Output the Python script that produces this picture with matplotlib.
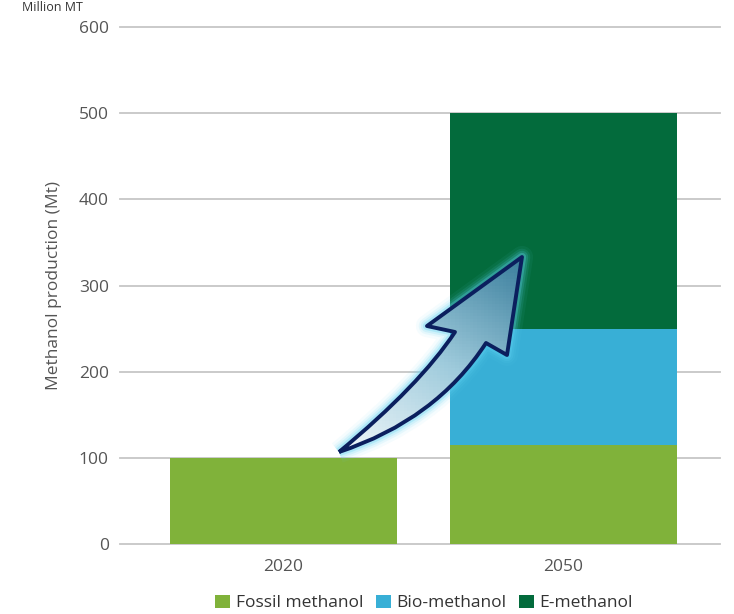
import numpy as np
import matplotlib
matplotlib.use('Agg')
import matplotlib.pyplot as plt
from matplotlib.path import Path
from matplotlib.patches import PathPatch

# data
years = ['2020', '2050']
fossil = [100, 115]
bio = [0, 135]
emeth = [0, 250]
series_names = ['Fossil methanol', 'Bio-methanol', 'E-methanol']
colors = ['#80b23a', '#38afd6', '#036b3c']
yticks = [0, 100, 200, 300, 400, 500, 600]

plt.rcParams['font.family'] = ['Open Sans', 'DejaVu Sans']

W, H = 734, 614
fig = plt.figure(figsize=(W / 100, H / 100), dpi=100)
ax = fig.add_axes([120 / W, 1 - 544 / H, 600 / W, 517 / H])

x = np.arange(len(years))
bw = 0.81
ax.bar(x, fossil, bw, color=colors[0], label=series_names[0], zorder=2)
ax.bar(x, bio, bw, bottom=fossil, color=colors[1], label=series_names[1], zorder=2)
ax.bar(x, emeth, bw, bottom=np.add(fossil, bio), color=colors[2], label=series_names[2], zorder=2)

ax.set_xlim(-0.584, 1.559)
ax.set_ylim(0, 600)
ax.set_xticks(x)
ax.set_xticklabels(years)
ax.set_yticks(yticks)
for t in yticks:
    ax.axhline(t, color='#c6c6c6', lw=1.3, zorder=1, clip_on=False)
for s in ax.spines.values():
    s.set_visible(False)
ax.tick_params(length=0, colors='#555555', labelsize=12.5)
ax.tick_params(axis='y', pad=8)
ax.tick_params(axis='x', pad=11)
ax.set_ylabel('Methanol production (Mt)', color='#555555', fontsize=12.5, labelpad=12)

# header is cut off in the source picture; keep it small and inside the canvas
fig.text(22 / W, 1 - 1 / H, 'Million MT', fontsize=9, color='#333333', va='top')

leg = fig.legend(loc='center', bbox_to_anchor=(0.578, 1 - 603 / H), ncol=3, frameon=False,
                 fontsize=12.5, handlelength=0.85, handleheight=0.85, handletextpad=0.35,
                 columnspacing=0.7, borderaxespad=0)
for t in leg.get_texts():
    t.set_color('#333333')

# curved arrow annotation (pixel coords of the picture)
pts = [
    (339, 452), (420, 385), (455, 332),
    (427, 326), (522, 257), (507, 355), (486, 343),
    (436, 420), (339, 452),
]
codes = [Path.MOVETO, Path.CURVE3, Path.CURVE3,
         Path.LINETO, Path.LINETO, Path.LINETO, Path.LINETO,
         Path.CURVE3, Path.CURVE3]
verts = [(px / W, 1 - py / H) for px, py in pts]
arrow_path = Path(verts, codes)

gax = fig.add_axes([0, 0, 1, 1])
gax.set_zorder(5)
gax.set_xlim(0, 1)
gax.set_ylim(0, 1)
gax.axis('off')

for lw, a in [(16, 0.06), (12, 0.1), (9, 0.16), (6, 0.3)]:
    gax.add_patch(PathPatch(arrow_path, transform=gax.transData, fc='none',
                            ec='#5fd3f3', lw=lw, alpha=a, joinstyle='round', zorder=1))

gy, gx = np.mgrid[0:1:200j, 0:1:200j]
# gradient running from tail (light) to tip (dark)
t0 = np.array([339 / W, 1 - 452 / H])
t1 = np.array([522 / W, 1 - 257 / H])
d = t1 - t0
g = ((gx - t0[0]) * d[0] + (gy - t0[1]) * d[1]) / (d @ d)
g = np.clip(g, 0, 1)
cmap = matplotlib.colors.LinearSegmentedColormap.from_list('arr', ['#f2f8fb', '#9fcbdc', '#3a7e9c'])
im = gax.imshow(g, extent=[0, 1, 0, 1], origin='lower', cmap=cmap, aspect='auto', zorder=3)
clip = PathPatch(arrow_path, transform=gax.transData, fc='none', ec='none')
gax.add_patch(clip)
im.set_clip_path(clip)
gax.add_patch(PathPatch(arrow_path, transform=gax.transData, fc='none', ec='#0b1f5e',
                        lw=2.8, joinstyle='round', zorder=4))

fig.savefig('out.png', dpi=100)
